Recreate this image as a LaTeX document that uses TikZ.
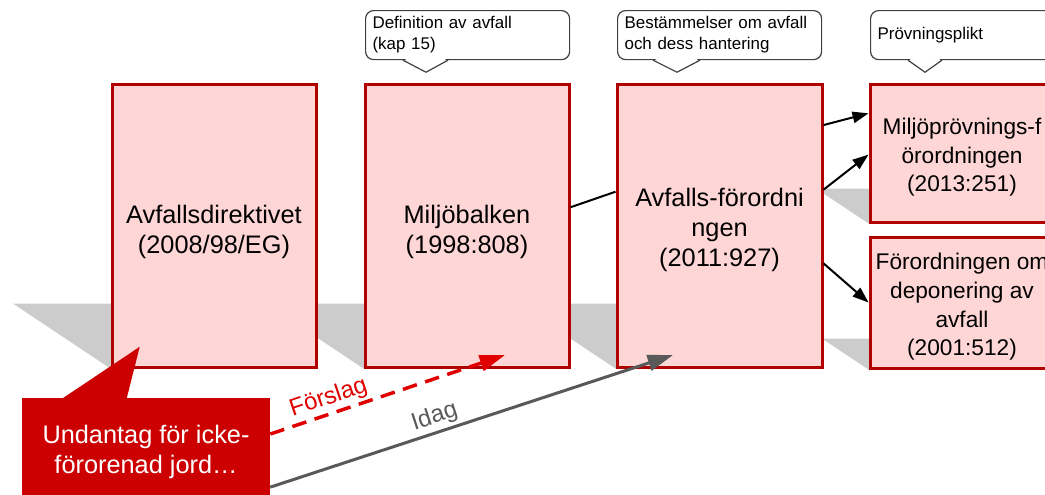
\documentclass[tikz,border=0pt]{standalone}
\usepackage{fontspec}
\setmainfont{Liberation Sans}
\usetikzlibrary{arrows.meta,calc,backgrounds}

\newcommand{\boxfont}{\fontsize{19}{22.5}\selectfont}
\newcommand{\smallboxfont}{\fontsize{17}{21.5}\selectfont}
\newcommand{\bubblefont}{\fontsize{12.7}{15.75}\selectfont}
\newcommand{\arrowfont}{\fontsize{18}{20}\selectfont}
% taller first line, so the box text sits a little lower
\newcommand{\topstrut}[1]{\rule{0pt}{#1}}

% shadow behind a box: node name, shadow height
\newcommand{\boxshadow}[2]{\fill[shadowgray] (#1.south west) -- ++(-1.5*#2,-#2) -- ($(#1.south east)+(0,-#2)$) -- (#1.south east) -- cycle;}
% pointer under a speech bubble: node name, left, tip, right (offsets from south west)
\newcommand{\bubblepointer}[4]{%
  \fill[white] ($(#1.south west)+(#2,-2.5)$) -- ($(#1.south west)+(#3,12)$) -- ($(#1.south west)+(#4,-2.5)$) -- cycle;
  \draw[bubbleline] ($(#1.south west)+(#2,0)$) -- ($(#1.south west)+(#3,12)$) -- ($(#1.south west)+(#4,0)$);}

\tikzset{
  lagbox/.style={draw={rgb, 255:red, 176; green, 0; blue, 0}, fill={rgb, 255:red, 255; green, 214; blue, 214}, line width=2.25pt, align=center, font=\boxfont, inner sep=3pt},
  smallbox/.style={lagbox, font=\smallboxfont, minimum width=138pt},
  bubble/.style={draw={rgb, 255:red, 64; green, 64; blue, 64}, fill=white, line width=0.9pt, rounded corners=6pt, text width=142.5pt, inner xsep=5.25pt, inner ysep=0pt, minimum height=36.75pt, align=left, font=\bubblefont},
  bubbleline/.style={draw={rgb, 255:red, 64; green, 64; blue, 64}, line width=0.9pt},
  shadowgray/.style={fill={rgb, 255:red, 204; green, 204; blue, 204}},
  redfill/.style={fill={rgb, 255:red, 204; green, 0; blue, 0}},
  rednote/.style={redfill, text=white, align=center, font=\boxfont, inner sep=0pt},
  linkline/.style={line width=1.5pt, -{Triangle[length=12pt,width=8.5pt]}},
  forslagline/.style={draw={rgb, 255:red, 224; green, 0; blue, 0}, line width=2.6pt, dash pattern=on 11pt off 6.5pt, -{Triangle[length=19pt,width=12pt]}},
  idagline/.style={draw={rgb, 255:red, 89; green, 89; blue, 89}, line width=2.25pt, -{Triangle[length=19pt,width=12pt]}},
  linelabel/.style={font=\arrowfont, anchor=south, inner sep=2pt},
}

\begin{document}
\begin{tikzpicture}[x=0.75pt,y=0.75pt,yscale=-1,xscale=1]
\useasboundingbox (0,0) rectangle (1045,494);

%Shape: Rectangle
\node[lagbox, minimum width=153pt, minimum height=212.25pt] (direktiv) at (214,225.5) {\topstrut{24pt}Avfallsdirektivet\\(2008/98/EG)};
%Shape: Rectangle
\node[lagbox, minimum width=153pt, minimum height=212.25pt] (balken) at (467,225.5) {\topstrut{24pt}Miljöbalken\\(1998:808)};
%Shape: Rectangle
\node[lagbox, minimum width=153.75pt, minimum height=212.25pt] (forordning) at (719.5,225.5) {\topstrut{21pt}Avfalls-förordni\\ngen\\(2011:927)};
%Shape: Rectangle
\node[smallbox, minimum height=103.5pt] (provning) at (962,153) {\topstrut{19pt}Miljöprövnings-f\\örordningen\\(2013:251)};
%Shape: Rectangle
\node[smallbox, minimum height=98.25pt] (deponering) at (962,302.5) {\topstrut{19pt}Förordningen om\\deponering av\\avfall\\(2001:512)};

%Shadows
\begin{scope}[on background layer]
\fill[white] (0,0) rectangle (1045,494);
\boxshadow{direktiv}{65}
\boxshadow{balken}{65}
\boxshadow{forordning}{65}
\boxshadow{provning}{35}
\boxshadow{deponering}{31}
\end{scope}

%Callouts
\node[bubble, anchor=north west] (defbubble) at (365,10) {Definition av avfall\\(kap 15)};
\bubblepointer{defbubble}{38}{61}{83}
\node[bubble, anchor=north west] (bestbubble) at (617,10) {Bestämmelser om avfall\\och dess hantering};
\bubblepointer{bestbubble}{36}{60}{83}
\node[bubble, anchor=north west] (provbubble) at (870,10) {Prövningsplikt};
\bubblepointer{provbubble}{38}{55}{72}

%Straight Lines
\draw[line width=1.5pt] (balken.10) -- (forordning.162);
\draw[linkline] (forordning.44) -- (provning.157);
\draw[linkline] (forordning.19) -- (provning.181);
\draw[linkline] (forordning.340) -- (deponering.west);

%Red callout
\node[rednote, minimum width=186pt, minimum height=80.25pt] (undantag) at (146,451.5) {Undantag för icke-\\förorenad jord…};
\fill[redfill] ($(undantag.north west)+(41,0.5)$) -- ($(undantag.north west)+(118,-51)$) -- ($(undantag.north west)+(105,0.5)$) -- cycle;

\coordinate (forslagend) at (505,355);
\coordinate (idagend) at (673,355);
\draw[forslagline] (undantag.8) -- node[pos=0.27, linelabel, rotate=18.6, text={rgb, 255:red, 224; green, 0; blue, 0}] {Förslag} (forslagend);
\draw[idagline] (undantag.344) -- node[pos=0.42, linelabel, rotate=18.1, text={rgb, 255:red, 89; green, 89; blue, 89}] {Idag} (idagend);

\end{tikzpicture}
\end{document}
